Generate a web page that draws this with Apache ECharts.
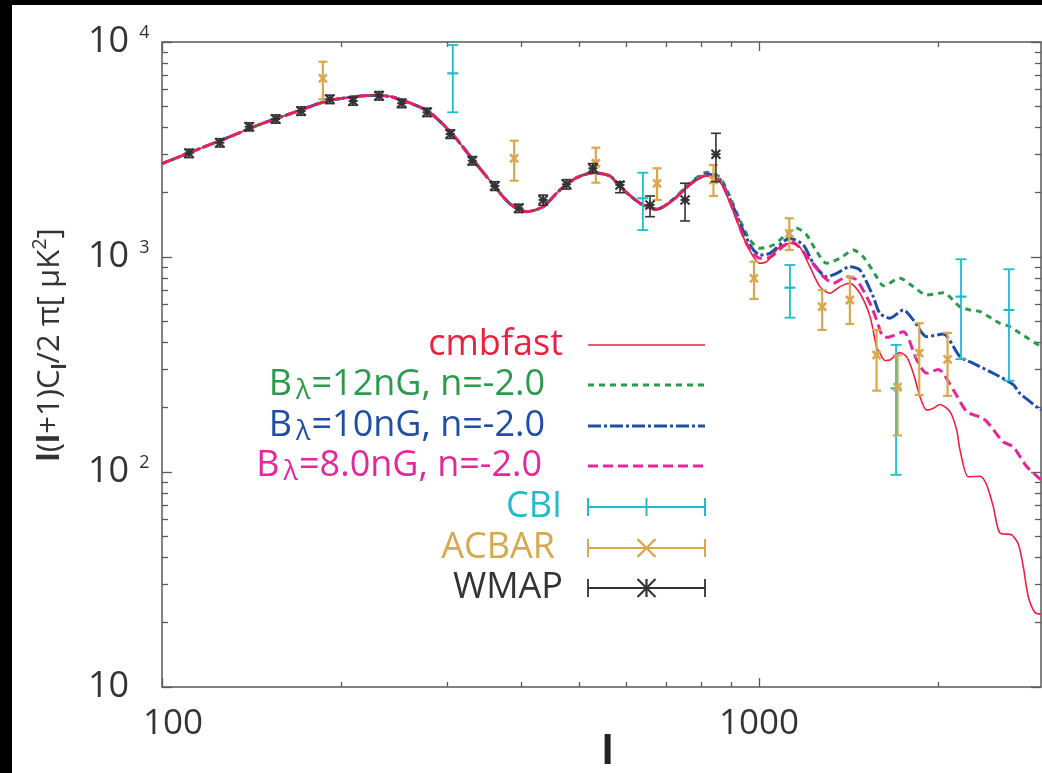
<!DOCTYPE html>
<html>
<head>
<meta charset="utf-8">
<script src="https://cdn.jsdelivr.net/npm/echarts@6/dist/echarts.min.js"></script>
<style>
  html, body { margin: 0; padding: 0; background: #000; width: 1042px; height: 773px; overflow: hidden; }
  #sheet { position: absolute; left: 12px; top: 5px; right: 0; bottom: 0; background: #fff; }
  #chart { position: absolute; left: 0; top: 0; width: 1042px; height: 773px; }
</style>
</head>
<body>
<div id="sheet"></div>
<div id="chart"></div>
<script>
// ---- Angular power spectrum l(l+1)C_l/2pi [uK^2] ----

// Low-l part, common to all four model curves
const ellShared = [100, 113, 128, 146, 166, 189, 215, 229, 244, 278, 304, 332, 359, 383, 408, 435, 464, 495, 528, 563, 585, 632, 674];
const clShared  = [2720, 3112, 3565, 4142, 4691, 5316, 5609, 5651, 5532, 4792, 3826, 2827, 2162, 1764, 1625, 1714, 2049, 2338, 2466, 2381, 2123, 1778, 1666];

// cmbfast (no magnetic field)
const ellCmbfast = [719, 766, 817, 860, 900, 954, 1004, 1030, 1084, 1127, 1171, 1217, 1265, 1315, 1367, 1420, 1476, 1535, 1574, 1594, 1626, 1657, 1722, 1767, 1814, 1861, 1910, 1960, 2010, 2089, 2144, 2171, 2242, 2346, 2407, 2469, 2533, 2651, 2721, 2772, 2826, 2900, 2968];
const clCmbfast  = [1842, 2162, 2381, 2239, 1700, 1140, 935, 951, 1117, 1158, 1110, 901, 728, 678, 728, 755, 678, 528, 381, 357, 330, 332, 359, 344, 288, 224, 194, 198, 206, 191, 157, 127, 95, 95.6, 87, 69, 52, 51, 46, 36.3, 26.3, 22.2, 21.8];

// B_lambda = 12 nG, n = -2.0
const ellB12 = [719, 766, 817, 860, 894, 929, 966, 1004, 1057, 1157, 1202, 1250, 1298, 1367, 1439, 1495, 1574, 1616, 1722, 1814, 1910, 2035, 2171, 2256, 2346, 2533, 2633, 2736, 2968];
const clB12  = [1860, 2200, 2480, 2350, 1908, 1486, 1200, 1098, 1137, 1360, 1266, 1058, 935, 986, 1078, 1003, 810, 735, 796, 728, 665, 682, 587, 567, 557, 492, 474, 442, 383];

// B_lambda = 10 nG, n = -2.0
const ellB10 = [719, 766, 817, 860, 900, 966, 1004, 1043, 1127, 1187, 1233, 1298, 1350, 1420, 1476, 1554, 1594, 1657, 1745, 1814, 1910, 2035, 2171, 2286, 2469, 2667, 2736, 2968];
const clB10  = [1850, 2180, 2430, 2300, 1780, 1137, 1022, 1040, 1222, 1137, 935, 810, 840, 900, 870, 654, 547, 519, 567, 509, 426, 438, 344, 320, 288, 255, 232, 194];

// B_lambda = 8.0 nG, n = -2.0
const ellB8 = [719, 766, 817, 860, 900, 954, 1004, 1043, 1134, 1217, 1282, 1332, 1403, 1457, 1535, 1574, 1610, 1640, 1745, 1838, 1910, 1997, 2116, 2228, 2346, 2407, 2566, 2667, 2808, 2968];
const clB8  = [1845, 2170, 2400, 2270, 1740, 1150, 986, 997, 1178, 968, 810, 755, 810, 782, 609, 510, 430, 423, 449, 332, 288, 300, 241, 191, 180, 172, 138, 131, 106, 92];

// CBI band powers
const cbiEll = [307, 639, 1127, 1697, 2180, 2623];
const cbiVal = [7148, 1875, 720, 245, 654, 567];
const cbiLo  = [4710, 1335, 522, 97, 335, 266];
const cbiHi  = [9683, 2466, 918, 390, 976, 877];

// ACBAR band powers
const acbarEll = [186, 389, 533, 675, 839, 981, 1124, 1276, 1420, 1574, 1707, 1856, 2070];
const acbarVal = [6777, 2877, 2728, 2202, 2281, 796, 1289, 587, 631, 350, 248, 357, 334];
const acbarLo  = [5414, 2264, 2216, 1842, 1922, 638, 1078, 458, 488, 239, 148, 228, 226];
const acbarHi  = [8096, 3475, 3223, 2586, 2679, 951, 1514, 702, 810, 458, 349, 492, 444];

// WMAP band powers
const wmapEll = [111, 125, 140, 155, 171, 191, 209, 231, 252, 278, 304, 331, 361, 396, 435, 476, 527, 585, 657, 752, 847];
const wmapVal = [3036, 3401, 4036, 4385, 4775, 5414, 5316, 5627, 5187, 4710, 3733, 2805, 2139, 1685, 1842, 2178, 2586, 2163, 1745, 1842, 3004];
const wmapLo  = [2900, 3250, 3860, 4190, 4560, 5170, 5080, 5370, 4950, 4500, 3560, 2680, 2040, 1610, 1740, 2070, 2460, 1991, 1540, 1471, 2240];
const wmapHi  = [3170, 3550, 4210, 4580, 4990, 5660, 5550, 5880, 5420, 4920, 3900, 2930, 2240, 1760, 1940, 2290, 2720, 2239, 1922, 2203, 3762];

// Axis tick values
const xMajorTicks = [100, 1000];
const xMinorTicks = [200, 300, 400, 500, 600, 700, 800, 900, 2000];
const yMajorTicks = [10, 100, 1000, 10000];
const yMinorTicks = [20, 30, 40, 50, 60, 70, 80, 90, 200, 300, 400, 500, 600, 700, 800, 900, 2000, 3000, 4000, 5000, 6000, 7000, 8000, 9000];

const X_MIN = 100, X_MAX = 2968, Y_MIN = 10, Y_MAX = 10000;

const FONT = '"Open Sans", "Noto Sans", sans-serif';
const COL = {
  red: '#ee1f3f', green: '#2b9a4c', blue: '#1f4ea8', pink: '#e8269c',
  cyan: '#1fbccb', gold: '#d9a84e', black: '#333333', axis: '#5a5a5a', text: '#333333'
};

function pairs(xs, ys) { return xs.map((x, i) => [x, ys[i]]); }

function logAxis(dim, position, ticks, len, extra) {
  const ax = {
    type: 'log', logBase: 10, position,
    min: dim === 'x' ? X_MIN : Y_MIN,
    max: dim === 'x' ? X_MAX : Y_MAX,
    axisLine: { show: false },
    splitLine: { show: false },
    axisTick: { show: true, inside: true, length: len, customValues: ticks, lineStyle: { color: COL.axis, width: 1.3 } },
    axisLabel: { show: false },
    silent: true
  };
  return Object.assign(ax, extra || {});
}

const xAxes = [
  logAxis('x', 'bottom', xMajorTicks, 9, {
    axisLabel: {
      show: true, customValues: xMajorTicks, margin: 20,
      formatter: v => (Math.round(v) === 100 ? '{f|100}' : '{n|' + Math.round(v) + '}'),
      rich: {
        f: { fontSize: 35, fontFamily: FONT, color: COL.text, padding: [0, 0, 0, 22] },
        n: { fontSize: 35, fontFamily: FONT, color: COL.text }
      }
    },
    name: 'l', nameLocation: 'middle', nameGap: 46, nameMoveOverlap: false,
    nameTextStyle: { fontSize: 40, fontWeight: 'bold', fontFamily: FONT, color: '#222', padding: [0, 0, 0, 12] }
  }),
  logAxis('x', 'bottom', xMinorTicks, 5),
  logAxis('x', 'top', xMajorTicks, 9),
  logAxis('x', 'top', xMinorTicks, 5)
];

const yAxes = [
  logAxis('y', 'left', yMajorTicks, 10, {
    axisLabel: {
      show: true, customValues: yMajorTicks, margin: 74, align: 'left',
      formatter: v => {
        const e = Math.round(Math.log10(v));
        return e === 1 ? '{b|10}' : '{b|10}{s|' + e + '}';
      },
      rich: {
        b: { fontSize: 36, fontFamily: FONT, color: COL.text },
        s: { fontSize: 18, fontFamily: FONT, color: COL.text, verticalAlign: 'top', padding: [0, 0, 0, 10] }
      }
    }
  }),
  logAxis('y', 'left', yMinorTicks, 6),
  logAxis('y', 'right', yMajorTicks, 10),
  logAxis('y', 'right', yMinorTicks, 6)
];

function curve(name, ell, cl, color, width, dash, z) {
  return {
    type: 'line', name,
    data: pairs(ellShared.concat(ell), clShared.concat(cl)),
    xAxisIndex: 0, yAxisIndex: 0,
    showSymbol: false, symbol: 'none', smooth: 0.25,
    lineStyle: { color, width, type: dash || 'solid', cap: 'butt' },
    z, silent: true, animation: false
  };
}

// Point marker shapes drawn at the band-power centre
const markers = {
  tick: (c, s, st) => [{ type: 'line', shape: { x1: c[0] - s, y1: c[1], x2: c[0] + s, y2: c[1] }, style: st }],
  cross: (c, s, st) => [
    { type: 'line', shape: { x1: c[0] - s, y1: c[1] - s, x2: c[0] + s, y2: c[1] + s }, style: st },
    { type: 'line', shape: { x1: c[0] - s, y1: c[1] + s, x2: c[0] + s, y2: c[1] - s }, style: st }
  ],
  star: (c, s, st) => [
    { type: 'line', shape: { x1: c[0] - s, y1: c[1], x2: c[0] + s, y2: c[1] }, style: st },
    { type: 'line', shape: { x1: c[0], y1: c[1] - s, x2: c[0], y2: c[1] + s }, style: st },
    { type: 'line', shape: { x1: c[0] - s, y1: c[1] - s, x2: c[0] + s, y2: c[1] + s }, style: st },
    { type: 'line', shape: { x1: c[0] - s, y1: c[1] + s, x2: c[0] + s, y2: c[1] - s }, style: st }
  ]
};

function errorBars(name, ell, val, lo, hi, color, marker, capHalf, markHalf, lw, z) {
  return {
    type: 'custom', name,
    xAxisIndex: 0, yAxisIndex: 0,
    data: ell.map((l, i) => [l, val[i], lo[i], hi[i]]),
    encode: { x: 0, y: [1, 2, 3] },
    z, silent: true, animation: false,
    renderItem(params, api) {
      const c = api.coord([api.value(0), api.value(1)]);
      const pLo = api.coord([api.value(0), api.value(2)]);
      const pHi = api.coord([api.value(0), api.value(3)]);
      const st = { stroke: color, lineWidth: lw, fill: null };
      const kids = [
        { type: 'line', shape: { x1: c[0], y1: pHi[1], x2: c[0], y2: pLo[1] }, style: st },
        { type: 'line', shape: { x1: c[0] - capHalf, y1: pHi[1], x2: c[0] + capHalf, y2: pHi[1] }, style: st },
        { type: 'line', shape: { x1: c[0] - capHalf, y1: pLo[1], x2: c[0] + capHalf, y2: pLo[1] }, style: st }
      ].concat(markers[marker](c, markHalf, { stroke: color, lineWidth: lw + 0.4, fill: null }));
      return { type: 'group', children: kids };
    }
  };
}

// ---- key ----
const keyRows = [
  { text: 'cmbfast', color: COL.red, y: 345, right: 563, kind: 'line', dash: null, width: 1.6 },
  { text: 'B{sub|λ}=12nG, n=-2.0', color: COL.green, y: 385, right: 545, kind: 'line', dash: [6, 5], width: 3 },
  { text: 'B{sub|λ}=10nG, n=-2.0', color: COL.blue, y: 426, right: 545, kind: 'line', dash: [13, 3, 3, 3], width: 3 },
  { text: 'B{sub|λ}=8.0nG, n=-2.0', color: COL.pink, y: 466, right: 542, kind: 'line', dash: [10, 5], width: 3 },
  { text: 'CBI', color: COL.cyan, y: 507, right: 562, kind: 'bar', mark: 'tick', width: 2 },
  { text: 'ACBAR', color: COL.gold, y: 548, right: 555, kind: 'bar', mark: 'cross', width: 2 },
  { text: 'WMAP', color: COL.black, y: 588, right: 563, kind: 'bar', mark: 'star', width: 1.8 }
];
const KEY_X1 = 588, KEY_X2 = 705;

const keyGraphics = [];
keyRows.forEach(r => {
  keyGraphics.push({
    type: 'text', x: r.right, y: r.y, silent: true,
    style: {
      text: r.text, fill: r.color, align: 'right', verticalAlign: 'middle',
      fontSize: 36, fontFamily: FONT, lineHeight: 40,
      rich: { sub: { fontSize: 27, fontFamily: FONT, fill: r.color, color: r.color, lineHeight: 24, verticalAlign: 'bottom', padding: [0, 1, 0, 4] } }
    }
  });
  const st = { stroke: r.color, lineWidth: r.width, lineDash: r.dash || null, fill: null };
  keyGraphics.push({ type: 'line', silent: true, shape: { x1: KEY_X1, y1: r.y, x2: KEY_X2, y2: r.y }, style: st });
  if (r.kind === 'bar') {
    const capH = 9;
    [KEY_X1, KEY_X2].forEach(x => keyGraphics.push({ type: 'line', silent: true, shape: { x1: x, y1: r.y - capH, x2: x, y2: r.y + capH }, style: st }));
    const mx = (KEY_X1 + KEY_X2) / 2;
    if (r.mark === 'tick') {
      keyGraphics.push({ type: 'line', silent: true, shape: { x1: mx, y1: r.y - capH, x2: mx, y2: r.y + capH }, style: st });
    } else {
      markers[r.mark]([mx, r.y], 9, { stroke: r.color, lineWidth: r.width + 0.4, fill: null })
        .filter((m, i) => r.mark !== 'star' || i !== 0)
        .forEach(m => { m.silent = true; keyGraphics.push(m); });
    }
  }
});

// y axis title, rotated
keyGraphics.push({
  type: 'text', x: 50, y: 345, rotation: Math.PI / 2, silent: true,
  style: {
    text: '{bl|l}({bl|l}+1)C{sub|l}/2 π[ μK{sup|2}]',
    fill: COL.text, align: 'center', verticalAlign: 'middle',
    fontSize: 31, fontFamily: FONT, lineHeight: 40,
    rich: {
      bl: { fontSize: 31, fontFamily: FONT, fontWeight: 'bold', fill: COL.text, lineHeight: 40 },
      sub: { fontSize: 20, fontFamily: FONT, fontWeight: 'bold', fill: COL.text, lineHeight: 20, verticalAlign: 'bottom' },
      sup: { fontSize: 20, fontFamily: FONT, fill: COL.text, lineHeight: 20, verticalAlign: 'top' }
    }
  }
});

const chart = echarts.init(document.getElementById('chart'), null, { renderer: 'canvas' });
chart.setOption({
  backgroundColor: 'transparent',
  animation: false,
  grid: {
    left: 162, top: 42, right: 1, bottom: 86, outerBoundsMode: 'none', containLabel: false,
    show: true, borderColor: COL.axis, borderWidth: 1.5, backgroundColor: 'transparent'
  },
  xAxis: xAxes,
  yAxis: yAxes,
  graphic: keyGraphics,
  series: [
    curve('B=12nG', ellB12, clB12, COL.green, 3, [6, 5], 2),
    curve('B=10nG', ellB10, clB10, COL.blue, 3, [13, 3, 3, 3], 3),
    curve('B=8.0nG', ellB8, clB8, COL.pink, 3, [10, 5], 4),
    curve('cmbfast', ellCmbfast, clCmbfast, COL.red, 1.6, null, 5),
    errorBars('CBI', cbiEll, cbiVal, cbiLo, cbiHi, COL.cyan, 'tick', 5.5, 5.5, 1.8, 6),
    errorBars('ACBAR', acbarEll, acbarVal, acbarLo, acbarHi, COL.gold, 'cross', 4.5, 4, 2.2, 7),
    errorBars('WMAP', wmapEll, wmapVal, wmapLo, wmapHi, COL.black, 'star', 5, 4.5, 1.6, 8)
  ]
});
</script>
</body>
</html>
